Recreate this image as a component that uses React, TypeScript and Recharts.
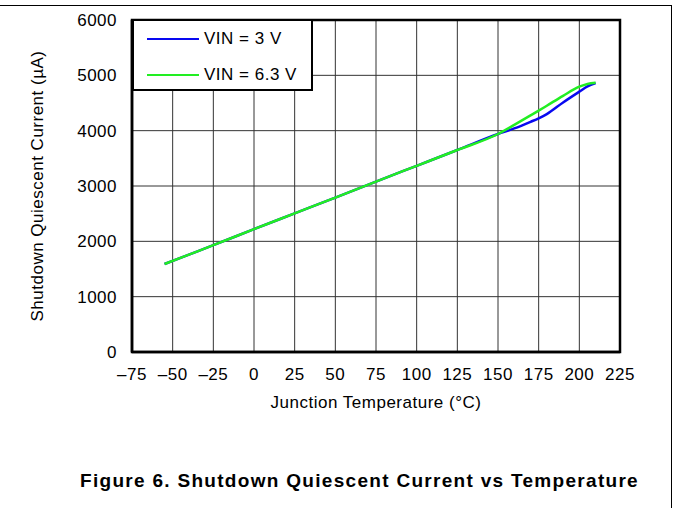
import { LineChart, Line, XAxis, YAxis, CartesianGrid, Legend, ReferenceArea } from 'recharts';

// junction temperature (°C)
const temps = [-55, -40, -25, 0, 25, 50, 75, 100, 125, 150, 160, 170, 175, 180, 190, 200, 205, 210];
// shutdown quiescent current (µA)
const vin3 = [1590, 1760, 1930, 2220, 2505, 2790, 3080, 3365, 3650, 3940, 4040, 4160, 4224, 4300, 4510, 4705, 4800, 4862];
const vin63 = [1590, 1760, 1930, 2220, 2505, 2790, 3080, 3365, 3650, 3940, 4105, 4275, 4361, 4450, 4630, 4795, 4845, 4865];

const xTicks = [-75, -50, -25, 0, 25, 50, 75, 100, 125, 150, 175, 200, 225];
const yTicks = [0, 1000, 2000, 3000, 4000, 5000, 6000];

const SERIES = [
  { key: 'vin3', name: 'VIN = 3 V', color: '#0808f0' },
  { key: 'vin63', name: 'VIN = 6.3 V', color: '#22ee22' },
];

const data = temps.map((t, i) => ({ t, vin3: vin3[i], vin63: vin63[i] }));

const FONT = '"Liberation Sans", Arial, sans-serif';
const tickStyle = { fontSize: 17, fill: '#000', fontFamily: FONT, letterSpacing: 0.5 };

const fmt = (v: number) => String(v).replace('-', '\u2013');

function LegendBox() {
  return (
    <div
      style={{
        width: 181,
        height: 72,
        boxSizing: 'border-box',
        border: '2.5px solid #000',
        background: '#fff',
        position: 'relative',
        fontFamily: FONT,
        fontSize: 17,
        letterSpacing: 0.5,
      }}
    >
      {SERIES.map((s, i) => (
        <div key={s.key} style={{ position: 'absolute', left: 13, top: 8 + i * 36, display: 'flex', alignItems: 'center', height: 20 }}>
          <div style={{ width: 52, height: 2.5, background: s.color, marginRight: 5 }} />
          <span style={{ color: '#000', whiteSpace: 'nowrap' }}>{s.name}</span>
        </div>
      ))}
    </div>
  );
}

export default function App() {
  return (
    <div style={{ position: 'absolute', left: 0, top: 0, width: 673, height: 508, background: '#fff', fontFamily: FONT }}>
      <div
        style={{
          position: 'absolute',
          left: 0,
          top: 5,
          width: 672,
          height: 503,
          boxSizing: 'border-box',
          borderTop: '1px solid #000',
          borderRight: '1px solid #000',
        }}
      />
      <LineChart width={673} height={508} data={data} margin={{ top: 20, right: 53, left: 72, bottom: 116 }}>
        <CartesianGrid stroke="#333" strokeWidth={1} />
        <XAxis
          dataKey="t"
          type="number"
          domain={[-75, 225]}
          ticks={xTicks}
          tickFormatter={fmt}
          height={40}
          tickLine={false}
          tickSize={6}
          tickMargin={10}
          axisLine={{ stroke: '#000', strokeWidth: 2.5 }}
          tick={tickStyle}
          interval={0}
          label={{ value: 'Junction Temperature (°C)', position: 'bottom', offset: 4, style: tickStyle }}
        />
        <YAxis
          type="number"
          domain={[0, 6000]}
          ticks={yTicks}
          width={60}
          tickLine={false}
          tickSize={5}
          tickMargin={10}
          axisLine={{ stroke: '#000', strokeWidth: 2.5 }}
          tick={tickStyle}
          interval={0}
          label={{ value: 'Shutdown Quiescent Current (µA)', angle: -90, position: 'center', dx: -65, style: tickStyle }}
        />
        <ReferenceArea x1={-75} x2={225} y1={0} y2={6000} fill="none" stroke="#000" strokeWidth={2.5} ifOverflow="visible" />
        {SERIES.map((s) => (
          <Line
            key={s.key}
            type="monotone"
            dataKey={s.key}
            name={s.name}
            stroke={s.color}
            strokeWidth={2.5}
            dot={false}
            isAnimationActive={false}
          />
        ))}
        <Legend
          layout="vertical"
          align="center"
          verticalAlign="middle"
          content={() => <LegendBox />}
          wrapperStyle={{ position: 'absolute', left: 132, top: 19, width: 181, height: 72 }}
        />
      </LineChart>
      <div
        style={{
          position: 'absolute',
          left: 80,
          top: 470,
          fontSize: 19,
          fontWeight: 'bold',
          letterSpacing: 1.3,
          whiteSpace: 'nowrap',
          color: '#000',
        }}
      >
        Figure 6. Shutdown Quiescent Current vs Temperature
      </div>
    </div>
  );
}
